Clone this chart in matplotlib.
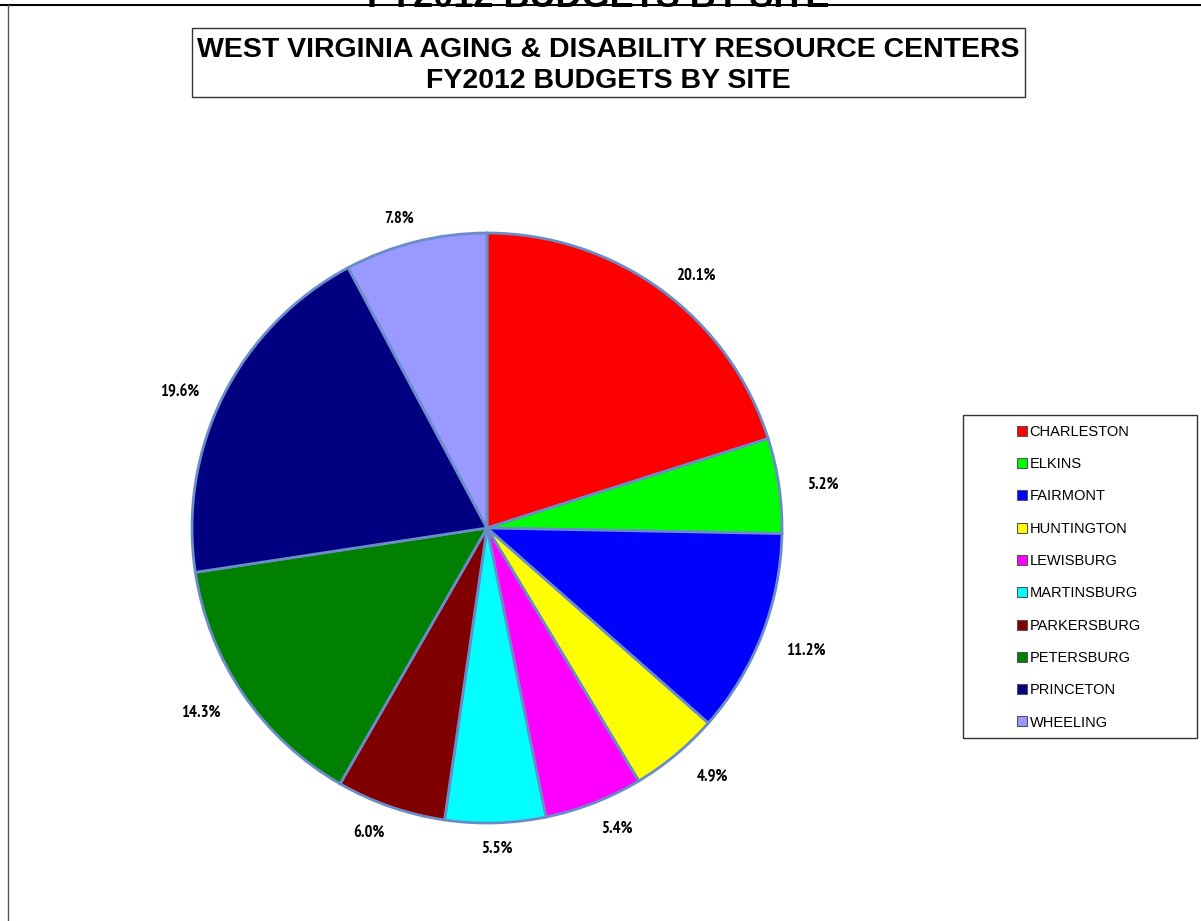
import numpy as np
import matplotlib.pyplot as plt
from matplotlib.patches import Rectangle
from matplotlib.lines import Line2D

sites = ["CHARLESTON", "ELKINS", "FAIRMONT", "HUNTINGTON", "LEWISBURG",
         "MARTINSBURG", "PARKERSBURG", "PETERSBURG", "PRINCETON", "WHEELING"]
shares = [20.1, 5.2, 11.2, 4.9, 5.4, 5.5, 6.0, 14.3, 19.6, 7.8]
colors = ["#FF0000", "#00FF00", "#0000FF", "#FFFF00", "#FF00FF",
          "#00FFFF", "#800000", "#008000", "#000080", "#9999FF"]

W, H = 1201, 921
fig = plt.figure(figsize=(W / 100, H / 100), dpi=100)
fig.patch.set_facecolor("white")

narrow = ["PT Sans Narrow", "Liberation Sans", "DejaVu Sans"]
plain = ["Liberation Sans", "DejaVu Sans"]

# outer frame (top and left edges visible)
fig.add_artist(Line2D([0, 1], [1 - 5 / H, 1 - 5 / H], color="black", lw=1.5,
                      transform=fig.transFigure))
fig.add_artist(Line2D([8 / W, 8 / W], [0, 1 - 5 / H], color="#555555", lw=1,
                      transform=fig.transFigure))

# cut-off title at the very top
fig.text(598 / W, 1 - 7 / H, "FY2012 BUDGETS BY SITE", ha="center", va="baseline",
         fontsize=26, fontweight="bold", family=plain)

# boxed title
fig.add_artist(Rectangle((192 / W, 1 - 97 / H), (1025 - 192) / W, 69 / H,
                         transform=fig.transFigure, facecolor="white",
                         edgecolor="#333333", lw=1))
fig.text(608 / W, 1 - 57 / H, "WEST VIRGINIA AGING & DISABILITY RESOURCE CENTERS",
         ha="center", va="baseline", fontsize=20.5, fontweight="bold", family=plain)
fig.text(608 / W, 1 - 88 / H, "FY2012 BUDGETS BY SITE",
         ha="center", va="baseline", fontsize=20.5, fontweight="bold", family=plain)

# pie
cx, cy, r = 487, 528, 295
ax = fig.add_axes([(cx - r) / W, (H - cy - r) / H, 2 * r / W, 2 * r / H])
wedges, _ = ax.pie(shares, colors=colors, startangle=90, counterclock=False,
                   wedgeprops=dict(edgecolor="#6A8CC8", linewidth=2))
ax.set_xlim(-1, 1)
ax.set_ylim(-1, 1)
ax.axis("off")

# percentage labels outside the rim, pushed sideways a little like Excel does
for w, v in zip(wedges, shares):
    mid = (w.theta1 + w.theta2) / 2
    ang = np.deg2rad(mid - 2 * np.sin(np.deg2rad(2 * mid)))
    x = 1.15 * np.cos(ang)
    y = 1.085 * np.sin(ang)
    if y < 0:
        y -= 0.05 * abs(np.cos(ang))
    ax.text(x, y, f"{v:.1f}%", ha="center", va="center",
            fontsize=12, fontweight="bold", family=narrow)

# legend
fig.add_artist(Rectangle((963 / W, 1 - 738 / H), 234 / W, 323 / H,
                         transform=fig.transFigure, facecolor="white",
                         edgecolor="#333333", lw=1))
handles = [Line2D([], [], marker="s", linestyle="none", markersize=7,
                  markerfacecolor=c, markeredgecolor="#555555", markeredgewidth=0.8)
           for c in colors]
fig.legend(handles, sites, loc="upper left",
           bbox_to_anchor=(1012 / W, 1 - 419 / H), frameon=False,
           prop=dict(family=plain, size=10.5), handlelength=0.6,
           handletextpad=0.2, labelspacing=1.255, borderaxespad=0)

fig.savefig("out.png", dpi=100)
